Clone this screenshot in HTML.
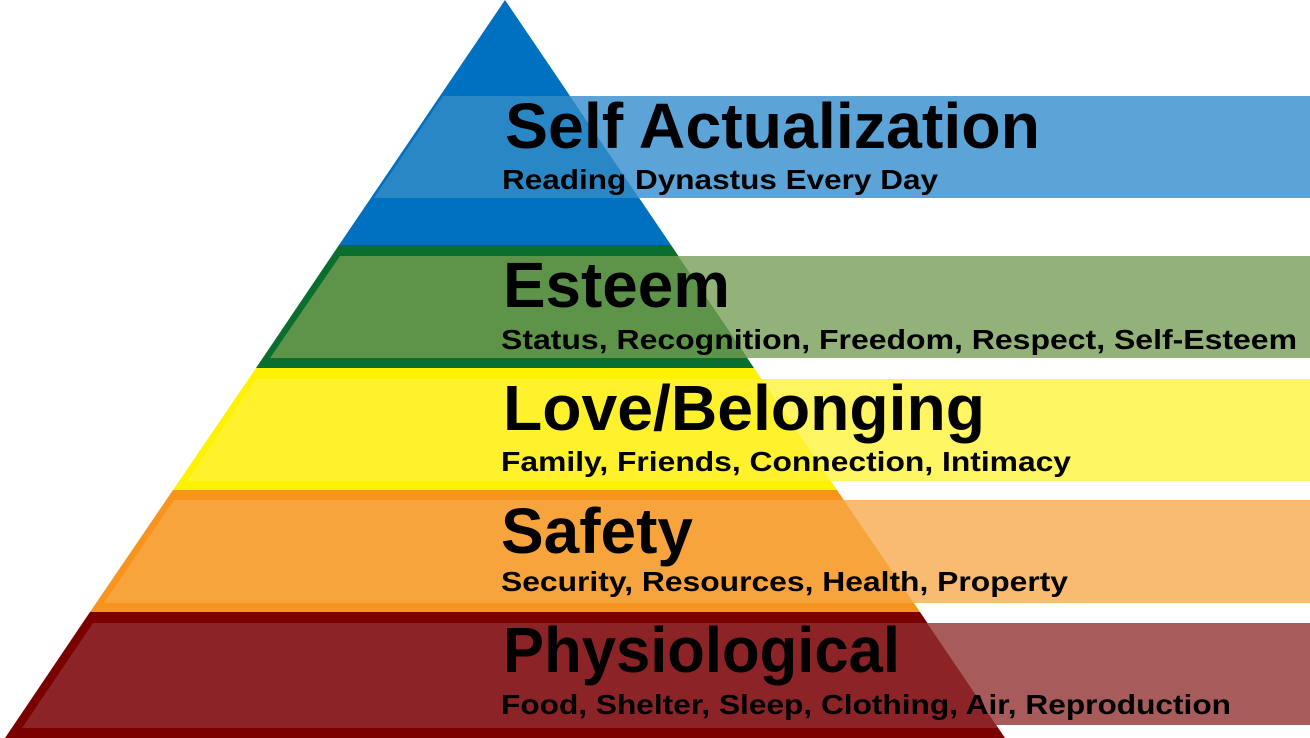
<!DOCTYPE html>
<html><head><meta charset="utf-8"><style>
html,body{margin:0;padding:0;background:#fff;}
svg{display:block;}
text{font-family:"Liberation Sans",sans-serif;fill:#000;}
.t{font-size:64px;font-weight:bold;}
.s{font-size:28px;font-weight:bold;}
</style></head><body>
<svg width="1310" height="738" viewBox="0 0 1310 738">
<polygon points="505,0 671,245 339,245" fill="#0070c0"/>
<polygon points="443,96 570,96 639,198 374,198" fill="#2a87c6"/>
<polygon points="570,96 1310,96 1310,198 639,198" fill="#5ca4d7"/>
<polygon points="339,245 671,245 754,368 256,368" fill="#0a6e2e"/>
<polygon points="340,256 678,256 748,358 270,358" fill="#5e9449"/>
<polygon points="678,256 1310,256 1310,358 748,358" fill="#93b27a"/>
<polygon points="256,368 754,368 837,490 173,490" fill="#fff200"/>
<polygon points="256,379 762,379 831,481 187,481" fill="#fff22c"/>
<polygon points="762,379 1310,379 1310,481 831,481" fill="#fef562"/>
<polygon points="173,490 837,490 920,612 90,612" fill="#f7941d"/>
<polygon points="174,500 844,500 914,603 104,603" fill="#f8a43c"/>
<polygon points="844,500 1310,500 1310,603 914,603" fill="#f9bb72"/>
<polygon points="90,612 920,612 1005,738 5,738" fill="#7b0000"/>
<polygon points="93,623 927,623 998,728 22,728" fill="#8b2327"/>
<polygon points="927,623 1310,623 1310,725 996,725" fill="#a85b5b"/>

<text class="t" x="505" y="148" textLength="535" lengthAdjust="spacingAndGlyphs">Self Actualization</text>
<text class="s" x="502" y="189" textLength="436" lengthAdjust="spacingAndGlyphs">Reading Dynastus Every Day</text>
<text class="t" x="503" y="307" textLength="227" lengthAdjust="spacingAndGlyphs">Esteem</text>
<text class="s" x="501" y="349" textLength="796" lengthAdjust="spacingAndGlyphs">Status, Recognition, Freedom, Respect, Self-Esteem</text>
<text class="t" x="503" y="430" textLength="482" lengthAdjust="spacingAndGlyphs">Love/Belonging</text>
<text class="s" x="501" y="471" textLength="570" lengthAdjust="spacingAndGlyphs">Family, Friends, Connection, Intimacy</text>
<text class="t" x="501" y="553" textLength="192" lengthAdjust="spacingAndGlyphs">Safety</text>
<text class="s" x="501" y="591" textLength="567" lengthAdjust="spacingAndGlyphs">Security, Resources, Health, Property</text>
<text class="t" x="503" y="672" textLength="397" lengthAdjust="spacingAndGlyphs">Physiological</text>
<text class="s" x="501" y="714" textLength="730" lengthAdjust="spacingAndGlyphs">Food, Shelter, Sleep, Clothing, Air, Reproduction</text>
</svg>
</body></html>
